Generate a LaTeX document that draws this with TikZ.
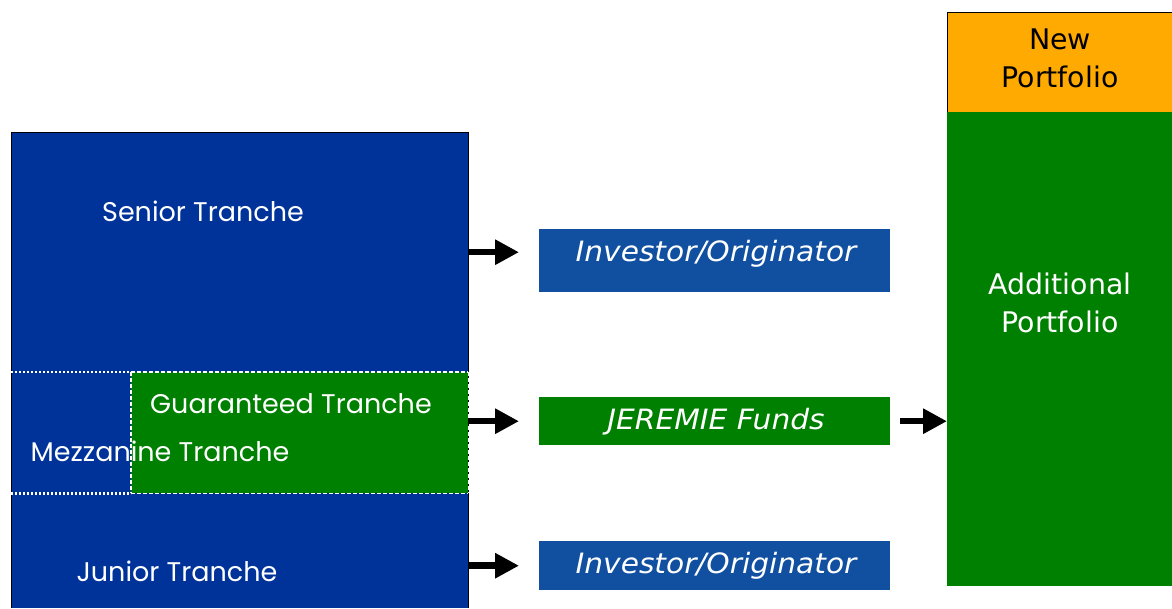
\documentclass[tikz,border=0pt]{standalone}
\usepackage{fontspec}
\setmainfont{DejaVu Sans}
\newfontfamily\futfont{Poppins}
\newfontfamily\verfont[FakeStretch=1.06]{DejaVu Sans}
\usetikzlibrary{arrows.meta}
\definecolor{tblue}{RGB}{0,51,153}
\definecolor{iblue}{RGB}{17,80,160}
\definecolor{tgreen}{RGB}{0,128,0}
\definecolor{torange}{RGB}{255,170,0}
\tikzset{
  region/.style={draw=none, fill=tblue, inner sep=0pt, anchor=north west},
  tlabel/.style={text=white, font=\futfont\fontsize{27}{30}\selectfont, inner sep=0pt},
  destbox/.style={inner sep=0pt, anchor=north west},
  desttext/.style={text=white, font=\verfont\itshape\fontsize{28}{30}\selectfont, inner sep=0pt},
  arr/.style={line width=6.5pt, -{Triangle[length=24pt,width=24pt]}},
  dotline/.style={white, line width=2.2pt, dash pattern=on 2pt off 2pt},
  dashline/.style={white, line width=1.2pt, dash pattern=on 3.5pt off 2.5pt},
  ptext/.style={font=\fontsize{28.4}{38}\selectfont, align=center},
}
\begin{document}
\begin{tikzpicture}[x=1pt,y=-1pt]
\useasboundingbox (0,0) rectangle (1172,608);
% tranche regions
\node[region, minimum width=457pt, minimum height=240pt] (senior) at (11,132) {};
\node[region, minimum width=457pt, minimum height=121pt] (mezz) at (11,372) {};
\node[region, minimum width=457pt, minimum height=115pt] (junior) at (11,493) {};
\draw[black, line width=1pt] (junior.south west) -- (senior.north west) -- (senior.north east) -- (junior.south east);
% guaranteed part
\node[fill=tgreen, inner sep=0pt, anchor=north west,
      minimum width=337pt, minimum height=121pt] (guar) at (131,372) {};
\draw[dashline] (guar.north west) -- (guar.south west);
\draw[dashline] (guar.north east) -- (guar.south east);
\draw[dotline] (mezz.north west) -- (guar.north west);
\draw[dotline] (mezz.south west) -- (guar.south west);
\draw[dashline] (guar.north west) -- (guar.north east);
\draw[dashline] (guar.south west) -- (guar.south east);
% labels
\node[tlabel] (seniort) at (203,211) {Senior Tranche};
\node[tlabel] (guart) at (291,404) {Guaranteed Tranche};
\node[tlabel] (mezzt) at (160,451) {Mezzanine Tranche};
\node[tlabel] (juniort) at (177,571) {Junior Tranche};
% destination boxes
\node[destbox, fill=iblue, minimum width=351pt, minimum height=63pt] (inv1) at (539,229) {};
\node[desttext] (inv1t) at (716,254) {Investor/Originator};
\node[destbox, fill=tgreen, minimum width=351pt, minimum height=48pt] (jer) at (539,397) {};
\node[desttext] (jert) at (716,422) {JEREMIE Funds};
\node[destbox, fill=iblue, minimum width=351pt, minimum height=49pt] (inv2) at (539,541) {};
\node[desttext] (inv2t) at (716,566) {Investor/Originator};
% portfolio
\node[draw=black, line width=1.2pt, fill=torange, inner sep=0pt, anchor=north west,
      minimum width=226pt, minimum height=100pt] (newp) at (947,12) {};
\node[ptext] (newpt) at (1060,58) {New\\Portfolio};
\node[fill=tgreen, inner sep=0pt, anchor=north west, minimum width=226pt, minimum height=474pt] (addl) at (947,112) {};
\node[ptext, text=white] (addlt) at (1060,303) {Additional\\Portfolio};
% arrows
\draw[arr, shorten >=20pt] (senior.east) -- (senior.east -| inv1.west);
\draw[arr, shorten >=20pt] (guar.east |- jer.west) -- (jer.west);
\draw[arr, shorten >=20pt] (junior.east |- inv2.west) -- (inv2.west);
\draw[arr, shorten <=10pt] (jer.east) -- (jer.east -| addl.west);
\end{tikzpicture}
\end{document}
